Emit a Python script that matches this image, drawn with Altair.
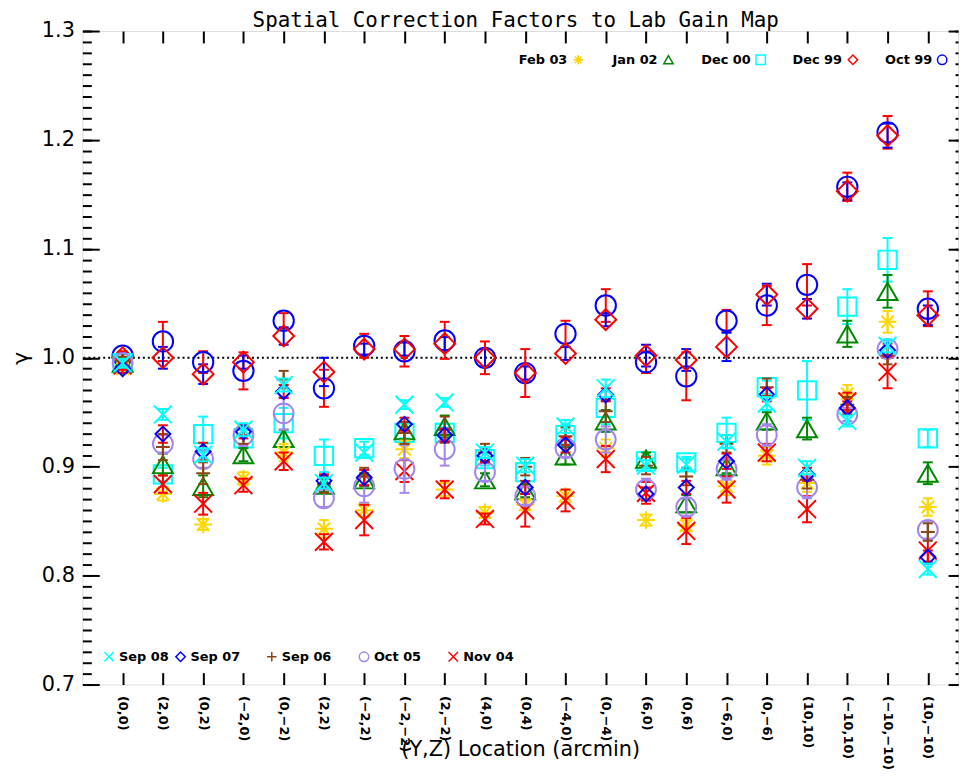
import altair as alt
import pandas as pd

# ---------------- data ----------------
locations = ["(0,0)", "(2,0)", "(0,2)", "(−2,0)", "(0,−2)", "(2,2)", "(−2,2)", "(−2,−2)",
             "(2,−2)", "(4,0)", "(0,4)", "(−4,0)", "(0,−4)", "(6,0)", "(0,6)", "(−6,0)",
             "(0,−6)", "(10,10)", "(−10,10)", "(−10,−10)", "(10,−10)"]

series_names = ["Oct 99", "Dec 99", "Dec 00", "Jan 02", "Feb 03",
                "Nov 04", "Oct 05", "Sep 06", "Sep 07", "Sep 08"]

oct99 = [1.002, 1.015, 0.996, 0.988, 1.034, 0.972, 1.011, 1.006, 1.016, 1.000, 0.986,
         1.022, 1.048, 0.996, 0.983, 1.034, 1.048, 1.067, 1.157, 1.207, 1.045]
oct99_err = [0.004, 0.018, 0.010, 0.017, 0.007, 0.017, 0.011, 0.014, 0.017, 0.015, 0.022,
             0.012, 0.015, 0.010, 0.022, 0.010, 0.018, 0.019, 0.013, 0.015, 0.016]

dec99 = [1.000, 1.000, 0.985, 0.996, 1.020, 0.987, 1.008, 1.008, 1.013, 1.000, 0.986,
         1.004, 1.035, 1.002, 0.998, 1.010, 1.058, 1.045, 1.153, 1.204, 1.039]
dec99_err = [0.004, 0.010, 0.009, 0.006, 0.008, 0.013, 0.005, 0.006, 0.006, 0.008, 0.006,
             0.006, 0.006, 0.010, 0.010, 0.013, 0.010, 0.009, 0.008, 0.011, 0.009]

dec00 = [0.995, 0.893, 0.930, 0.926, 0.940, 0.910, 0.917, 0.931, 0.931, 0.907, 0.895,
         0.929, 0.954, 0.905, 0.904, 0.931, 0.973, 0.970, 1.047, 1.090, 0.926]
dec00_err = [0.004, 0.006, 0.016, 0.008, 0.014, 0.015, 0.006, 0.005, 0.005, 0.006, 0.008,
             0.010, 0.015, 0.005, 0.005, 0.014, 0.006, 0.027, 0.016, 0.020, 0.008]

jan02 = [0.995, 0.902, 0.882, 0.911, 0.926, 0.883, 0.888, 0.933, 0.937, 0.888, 0.878,
         0.910, 0.942, 0.907, 0.866, 0.900, 0.942, 0.935, 1.022, 1.061, 0.894]
jan02_err = [0.004, 0.010, 0.010, 0.006, 0.008, 0.006, 0.006, 0.008, 0.010, 0.006, 0.006,
             0.008, 0.010, 0.006, 0.008, 0.006, 0.008, 0.010, 0.012, 0.015, 0.010]

feb03 = [0.990, 0.875, 0.847, 0.889, 0.913, 0.843, 0.860, 0.916, 0.879, 0.858, 0.865,
         0.873, 0.917, 0.851, 0.846, 0.882, 0.910, 0.885, 0.967, 1.033, 0.863]
feb03_err = [0.004, 0.006, 0.005, 0.006, 0.008, 0.008, 0.006, 0.008, 0.006, 0.005, 0.005,
             0.006, 0.008, 0.005, 0.005, 0.008, 0.008, 0.008, 0.008, 0.010, 0.008]

nov04 = [0.993, 0.884, 0.866, 0.883, 0.905, 0.831, 0.851, 0.896, 0.879, 0.852, 0.860,
         0.869, 0.907, 0.876, 0.841, 0.879, 0.913, 0.861, 0.960, 0.987, 0.823]
nov04_err = [0.004, 0.008, 0.010, 0.006, 0.008, 0.007, 0.014, 0.010, 0.008, 0.005, 0.015,
             0.010, 0.012, 0.010, 0.012, 0.012, 0.008, 0.012, 0.008, 0.015, 0.010]

oct05 = [0.995, 0.921, 0.907, 0.929, 0.949, 0.871, 0.882, 0.898, 0.916, 0.895, 0.873,
         0.917, 0.925, 0.879, 0.863, 0.898, 0.929, 0.881, 0.948, 1.008, 0.842]
oct05_err = [0.004, 0.008, 0.008, 0.010, 0.015, 0.008, 0.015, 0.022, 0.015, 0.008, 0.008,
             0.008, 0.012, 0.010, 0.008, 0.010, 0.010, 0.010, 0.006, 0.008, 0.008]

sep06 = [0.997, 0.918, 0.894, 0.929, 0.980, 0.884, 0.891, 0.931, 0.934, 0.913, 0.900,
         0.928, 0.951, 0.901, 0.891, 0.921, 0.973, 0.888, 0.957, 1.002, 0.840]
sep06_err = [0.004, 0.012, 0.010, 0.008, 0.008, 0.008, 0.008, 0.010, 0.012, 0.008, 0.008,
             0.008, 0.010, 0.008, 0.008, 0.008, 0.008, 0.008, 0.007, 0.008, 0.008]

sep07 = [0.990, 0.930, 0.914, 0.932, 0.969, 0.887, 0.890, 0.939, 0.929, 0.910, 0.881,
         0.920, 0.966, 0.875, 0.881, 0.905, 0.966, 0.893, 0.954, 1.007, 0.817]
sep07_err = [0.004, 0.008, 0.008, 0.006, 0.006, 0.006, 0.007, 0.006, 0.006, 0.006, 0.006,
             0.007, 0.006, 0.006, 0.006, 0.007, 0.006, 0.006, 0.006, 0.006, 0.006]

sep08 = [0.995, 0.948, 0.911, 0.934, 0.975, 0.885, 0.913, 0.957, 0.959, 0.913, 0.901,
         0.937, 0.972, 0.901, 0.902, 0.923, 0.958, 0.899, 0.942, 1.011, 0.806]
sep08_err = [0.004, 0.005, 0.006, 0.006, 0.006, 0.005, 0.005, 0.004, 0.004, 0.005, 0.006,
             0.006, 0.008, 0.005, 0.005, 0.006, 0.006, 0.006, 0.005, 0.006, 0.005]

series_values = [oct99, dec99, dec00, jan02, feb03, nov04, oct05, sep06, sep07, sep08]
series_errors = [oct99_err, dec99_err, dec00_err, jan02_err, feb03_err,
                 nov04_err, oct05_err, sep06_err, sep07_err, sep08_err]

y_major = [0.7, 0.8, 0.9, 1.0, 1.1, 1.2, 1.3]
y_minor = [round(0.70 + 0.01 * i, 2) for i in range(61)]

chart_title = "Spatial Correction Factors to Lab Gain Map"
x_title = "(Y,Z) Location (arcmin)"

# ---------------- styles ----------------
ASTER = "M-1,0L1,0M0,-1L0,1M-0.7,-0.7L0.7,0.7M-0.7,0.7L0.7,-0.7"
XSYM = "M-1,-1L1,1M-1,1L1,-1"
PLUS = "M-1,0L1,0M0,-1L0,1"
CAP = "M-1,0L1,0"

styles = {
    "Oct 99": dict(color="#0000ff", ecolor="#ff0000", shape="circle", size=420),
    "Dec 99": dict(color="#ff0000", ecolor="#0000ff", shape="diamond", size=440),
    "Dec 00": dict(color="#00ffff", ecolor="#00ffff", shape="square", size=340),
    "Jan 02": dict(color="#008800", ecolor="#008800", shape="triangle-up", size=400),
    "Feb 03": dict(color="#ffd700", ecolor="#ffd700", shape=ASTER, size=324),
    "Nov 04": dict(color="#ff0000", ecolor="#ff0000", shape=XSYM, size=324),
    "Oct 05": dict(color="#a385f0", ecolor="#a385f0", shape="circle", size=400),
    "Sep 06": dict(color="#8b4513", ecolor="#8b4513", shape=PLUS, size=196),
    "Sep 07": dict(color="#0000ff", ecolor="#ff0000", shape="diamond", size=225),
    "Sep 08": dict(color="#00ffff", ecolor="#00ffff", shape=XSYM, size=324),
}

W, H = 883, 659
FONT = "DejaVu Sans"
xs = alt.Scale(domain=[-1, 20.75], nice=False, zero=False)
ys = alt.Scale(domain=[0.7, 1.3], nice=False, zero=False)

label_expr = "[" + ",".join("'" + l + "'" for l in locations) + "][datum.value]"

base_df = pd.DataFrame({"loc": list(range(21)), "val": oct99})

layers = []

# dotted reference line at 1.0
layers.append(
    alt.Chart(pd.DataFrame({"ref": [1.0]})).mark_rule(
        color="black", strokeWidth=2, strokeDash=[2, 3]
    ).encode(y=alt.Y("ref:Q", scale=ys, axis=None))
)

tick_common = dict(labels=False, domain=False, grid=False, title=None,
                   tickColor="black", tickWidth=2)


def axis_layer(xaxis, yaxis):
    return alt.Chart(base_df).mark_point(opacity=0).encode(
        x=alt.X("loc:Q", scale=xs, axis=xaxis),
        y=alt.Y("val:Q", scale=ys, axis=yaxis),
    )


layers.append(axis_layer(
    alt.Axis(orient="bottom", values=list(range(21)), labelExpr=label_expr, labelAngle=90,
             labelFont=FONT, labelFontSize=13, labelFontWeight="bold", labelColor="black",
             labelPadding=11, ticks=False, domain=False, grid=False,
             title=x_title, titleFont=FONT, titleFontSize=21,
             titleFontWeight="normal", titleColor="black", titleY=66, titleBaseline="middle"),
    alt.Axis(orient="left", values=y_major, format=".1f", labelFont=FONT, labelFontSize=21,
             labelColor="black", labelPadding=8, ticks=False, domain=False, grid=False,
             title="γ", titleFont=FONT, titleFontSize=22, titleFontWeight="normal",
             titleColor="black", titleAngle=270, titleX=-62, titleY=H / 2,
             titleAlign="center", titleBaseline="middle"),
))
layers.append(axis_layer(
    alt.Axis(orient="top", offset=-H, values=list(range(21)), tickSize=12, **tick_common),
    alt.Axis(orient="right", offset=-W, values=y_major, tickSize=17, **tick_common),
))
layers.append(axis_layer(
    alt.Axis(orient="bottom", offset=-H, values=list(range(21)), tickSize=12, **tick_common),
    alt.Axis(orient="right", offset=-W, values=y_minor, tickSize=9, **tick_common),
))
layers.append(axis_layer(
    None,
    alt.Axis(orient="left", offset=-W, values=y_major, tickSize=10, **tick_common),
))
layers.append(axis_layer(
    None,
    alt.Axis(orient="left", offset=-W, values=y_minor, tickSize=3, **tick_common),
))

# series layers
for name, vals, errs in zip(series_names, series_values, series_errors):
    st = styles[name]
    d = pd.DataFrame({"loc": list(range(21)), "val": vals, "err": errs})
    d["lo"] = d["val"] - d["err"]
    d["hi"] = d["val"] + d["err"]
    X = alt.X("loc:Q", scale=xs, axis=None)
    base = alt.Chart(d)
    layers.append(base.mark_rule(color=st["ecolor"], strokeWidth=2).encode(
        x=X, y=alt.Y("lo:Q", scale=ys, axis=None), y2="hi:Q"))
    layers.append(base.transform_fold(["lo", "hi"], as_=["k", "cap"]).mark_point(
        shape=CAP, size=100, filled=False, stroke=st["ecolor"], strokeWidth=2, opacity=1
    ).encode(x=X, y=alt.Y("cap:Q", scale=ys, axis=None)))
    layers.append(base.mark_point(
        shape=st["shape"], size=st["size"], filled=False, stroke=st["color"],
        strokeWidth=2, opacity=1
    ).encode(x=X, y=alt.Y("val:Q", scale=ys, axis=None)))

one = pd.DataFrame({"a": [0]})

# chart title as text
layers.append(alt.Chart(one).mark_text(
    text=chart_title, font="DejaVu Sans Mono", fontSize=21, fontWeight="normal",
    color="black", align="center", baseline="alphabetic"
).encode(x=alt.value(437), y=alt.value(-4)))


def legend_item(name, sym_x, text_x, y, align):
    st = styles[name]
    sym = alt.Chart(one).mark_point(
        shape=st["shape"], size=90, filled=False, stroke=st["color"], strokeWidth=1.5, opacity=1
    ).encode(x=alt.value(sym_x), y=alt.value(y))
    txt = alt.Chart(one).mark_text(
        text=name, font=FONT, fontSize=13, fontWeight="bold", color="black",
        align=align, baseline="middle"
    ).encode(x=alt.value(text_x), y=alt.value(y))
    return [sym, txt]


top_items = [("Feb 03", 500, 489), ("Jan 02", 591, 580), ("Dec 00", 684, 674),
             ("Dec 99", 777, 766), ("Oct 99", 867, 857)]
for n, sx, tx in top_items:
    layers += legend_item(n, sx, tx, 29, "right")

bottom_items = [("Sep 08", 27, 37), ("Sep 07", 99, 109), ("Sep 06", 191, 201),
                ("Oct 05", 284, 294), ("Nov 04", 374, 384)]
for n, sx, tx in bottom_items:
    layers += legend_item(n, sx, tx, 631, "left")

chart = alt.layer(*layers).resolve_axis(x="independent", y="independent").properties(
    width=W, height=H,
    padding={"left": 75, "top": 20, "right": 3, "bottom": 90},
    autosize=alt.AutoSizeParams(type="none"),
).configure_view(stroke="black", strokeWidth=2).configure(background="white")

chart.save("out.html", embed_options={"renderer": "svg", "actions": False})
